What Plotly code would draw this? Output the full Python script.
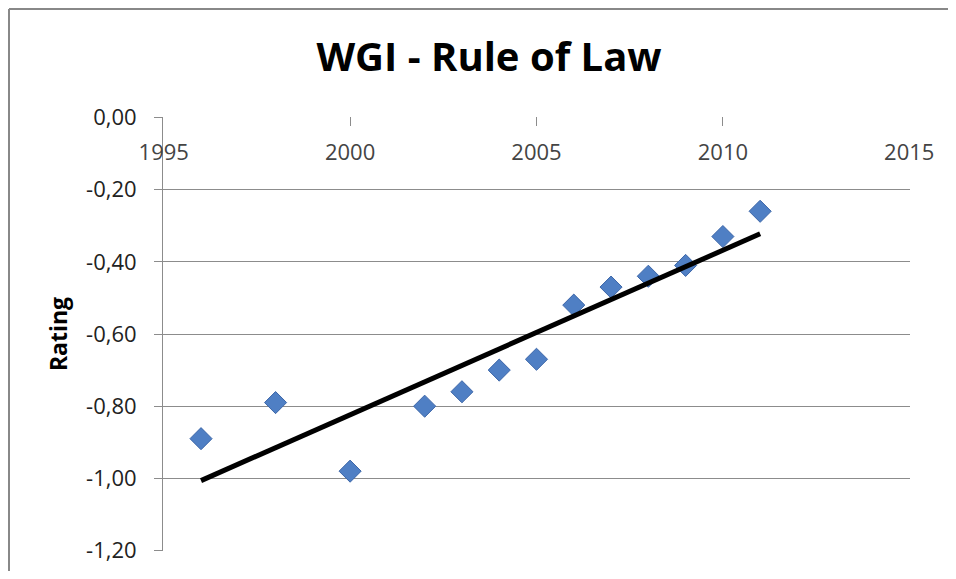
import numpy as np
import plotly.graph_objects as go

years = [1996, 1998, 2000, 2002, 2003, 2004, 2005, 2006, 2007, 2008, 2009, 2010, 2011]
rating = [-0.89, -0.79, -0.98, -0.80, -0.76, -0.70, -0.67, -0.52, -0.47, -0.44, -0.41, -0.33, -0.26]

x_ticks = [1995, 2000, 2005, 2010, 2015]
x_ticklabels = ["1995", "2000", "2005", "2010", "2015"]
y_ticks = [0, -0.2, -0.4, -0.6, -0.8, -1.0, -1.2]
y_ticklabels = ["0,00", "-0,20", "-0,40", "-0,60", "-0,80", "-1,00", "-1,20"]

title_text = "WGI - Rule of Law"
y_title = "Rating"

# linear trend line (least squares) over the data span
slope, intercept = np.polyfit(years, rating, 1)
trend_x = [min(years), max(years)]
trend_y = [slope * v + intercept for v in trend_x]

# page has an 8px body margin, so the figure is sized to fit inside it (no scrollbars)
OFF = 8
W, H = 956 - 2 * OFF, 579 - 2 * OFF
L, T = 163 - OFF, 117 - OFF
R = W - (910 - OFF)
B = H - (551 - OFF)
pw, ph = W - L - R, H - T - B

def px_x(p):
    return (p - OFF - L) / pw

def px_y(p):
    return (H - B - (p - OFF)) / ph

fig = go.Figure()
fig.add_trace(go.Scatter(
    x=years, y=rating, mode="markers",
    marker=dict(symbol="diamond", size=17, color="#4F7FC4",
                line=dict(color="#3C66A8", width=1)),
    showlegend=False, cliponaxis=False,
))
fig.add_trace(go.Scatter(
    x=trend_x, y=trend_y, mode="lines",
    line=dict(color="#000000", width=5),
    showlegend=False, cliponaxis=False,
))

grid_col = "#8C8C8C"
fig.update_layout(
    width=W, height=H,
    margin=dict(l=L, r=R, t=T, b=B, autoexpand=False),
    paper_bgcolor="white", plot_bgcolor="white",
    font=dict(family="Open Sans", size=22, color="#222222"),
    title=dict(text="<b>" + title_text + "</b>", x=(489 - OFF) / W, xref="container", xanchor="center",
               y=1 - (57 - OFF) / H, yref="container", yanchor="middle",
               font=dict(family="Open Sans", size=40, color="#000000")),
    xaxis=dict(range=[1994.98, 2015.02], tickvals=x_ticks, ticktext=x_ticklabels,
               side="top", ticks="inside", ticklen=9, tickcolor=grid_col,
               ticklabelposition="inside", ticklabelstandoff=20,
               ticklabeloverflow="allow",
               showline=False, showgrid=False, zeroline=False,
               anchor="y", automargin=False),
    yaxis=dict(range=[-1.2012, 0.0012], tickvals=y_ticks, ticktext=y_ticklabels,
               ticks="outside", ticklen=8, tickcolor=grid_col, ticklabelstandoff=13,
               showgrid=True, gridcolor=grid_col, gridwidth=1,
               showline=True, linecolor=grid_col, linewidth=1,
               zeroline=False, automargin=False,
               title=dict(text="<b>" + y_title + "</b>", standoff=12,
                          font=dict(family="Open Sans", size=23, color="#000000"))),
)

# chart frame (outer border, left and top visible)
fig.add_shape(type="line", xref="paper", yref="paper",
              x0=px_x(9), x1=px_x(9), y0=px_y(9), y1=px_y(590),
              line=dict(color="#888888", width=2))
fig.add_shape(type="line", xref="paper", yref="paper",
              x0=px_x(9), x1=px_x(970), y0=px_y(9), y1=px_y(9),
              line=dict(color="#888888", width=2))

fig.write_html("out.html", config={"displayModeBar": False})
